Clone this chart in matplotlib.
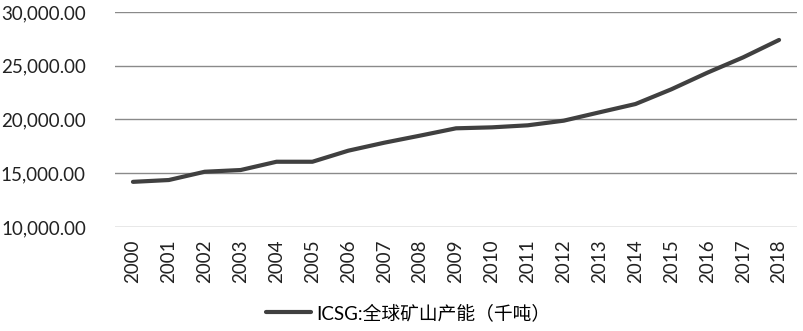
import matplotlib
matplotlib.use("Agg")
import matplotlib.pyplot as plt
from matplotlib.ticker import FuncFormatter

plt.rcParams['font.family'] = ['Lato', 'Noto Sans CJK SC', 'DejaVu Sans']

years = [str(y) for y in range(2000, 2019)]
capacity = [14200, 14370, 15140, 15300, 16070, 16070, 17100, 17840, 18500,
            19180, 19270, 19460, 19890, 20670, 21440, 22810, 24350, 25780, 27400]
series_name = "ICSG:全球矿山产能（千吨）"
y_ticks = [10000, 15000, 20000, 25000, 30000]

fig = plt.figure(figsize=(8.04, 3.31), dpi=100)
ax = fig.add_axes([115 / 804, 1 - 227 / 331, (797 - 115) / 804, (227 - 12) / 331])

x = list(range(len(years)))
line, = ax.plot(x, capacity, color='#404040', linewidth=3.0,
                solid_capstyle='round', solid_joinstyle='round', label=series_name)

ax.set_xlim(-0.5, len(years) - 0.5)
ax.set_ylim(10000, 30000)
ax.set_yticks(y_ticks)
ax.yaxis.set_major_formatter(FuncFormatter(lambda v, p: f"{v:,.2f}"))
ax.set_xticks(x)
ax.set_xticklabels(years, rotation=90)
ax.tick_params(axis='both', length=0, labelsize=13.5, colors='#222222')
ax.tick_params(axis='y', pad=21)
ax.tick_params(axis='x', pad=9)

ax.grid(axis='y', color='#8a8a8a', linewidth=1.0)
ax.set_axisbelow(True)
for s in ax.spines.values():
    s.set_visible(False)

fig.legend(handles=[line], labels=[series_name], loc='center',
           bbox_to_anchor=(408 / 804, 1 - 313 / 331), frameon=False,
           handlelength=2.4, handletextpad=0.3,
           prop={'family': ['Lato', 'Noto Sans CJK SC'], 'size': 13.5})

fig.savefig("out.png", dpi=100)
